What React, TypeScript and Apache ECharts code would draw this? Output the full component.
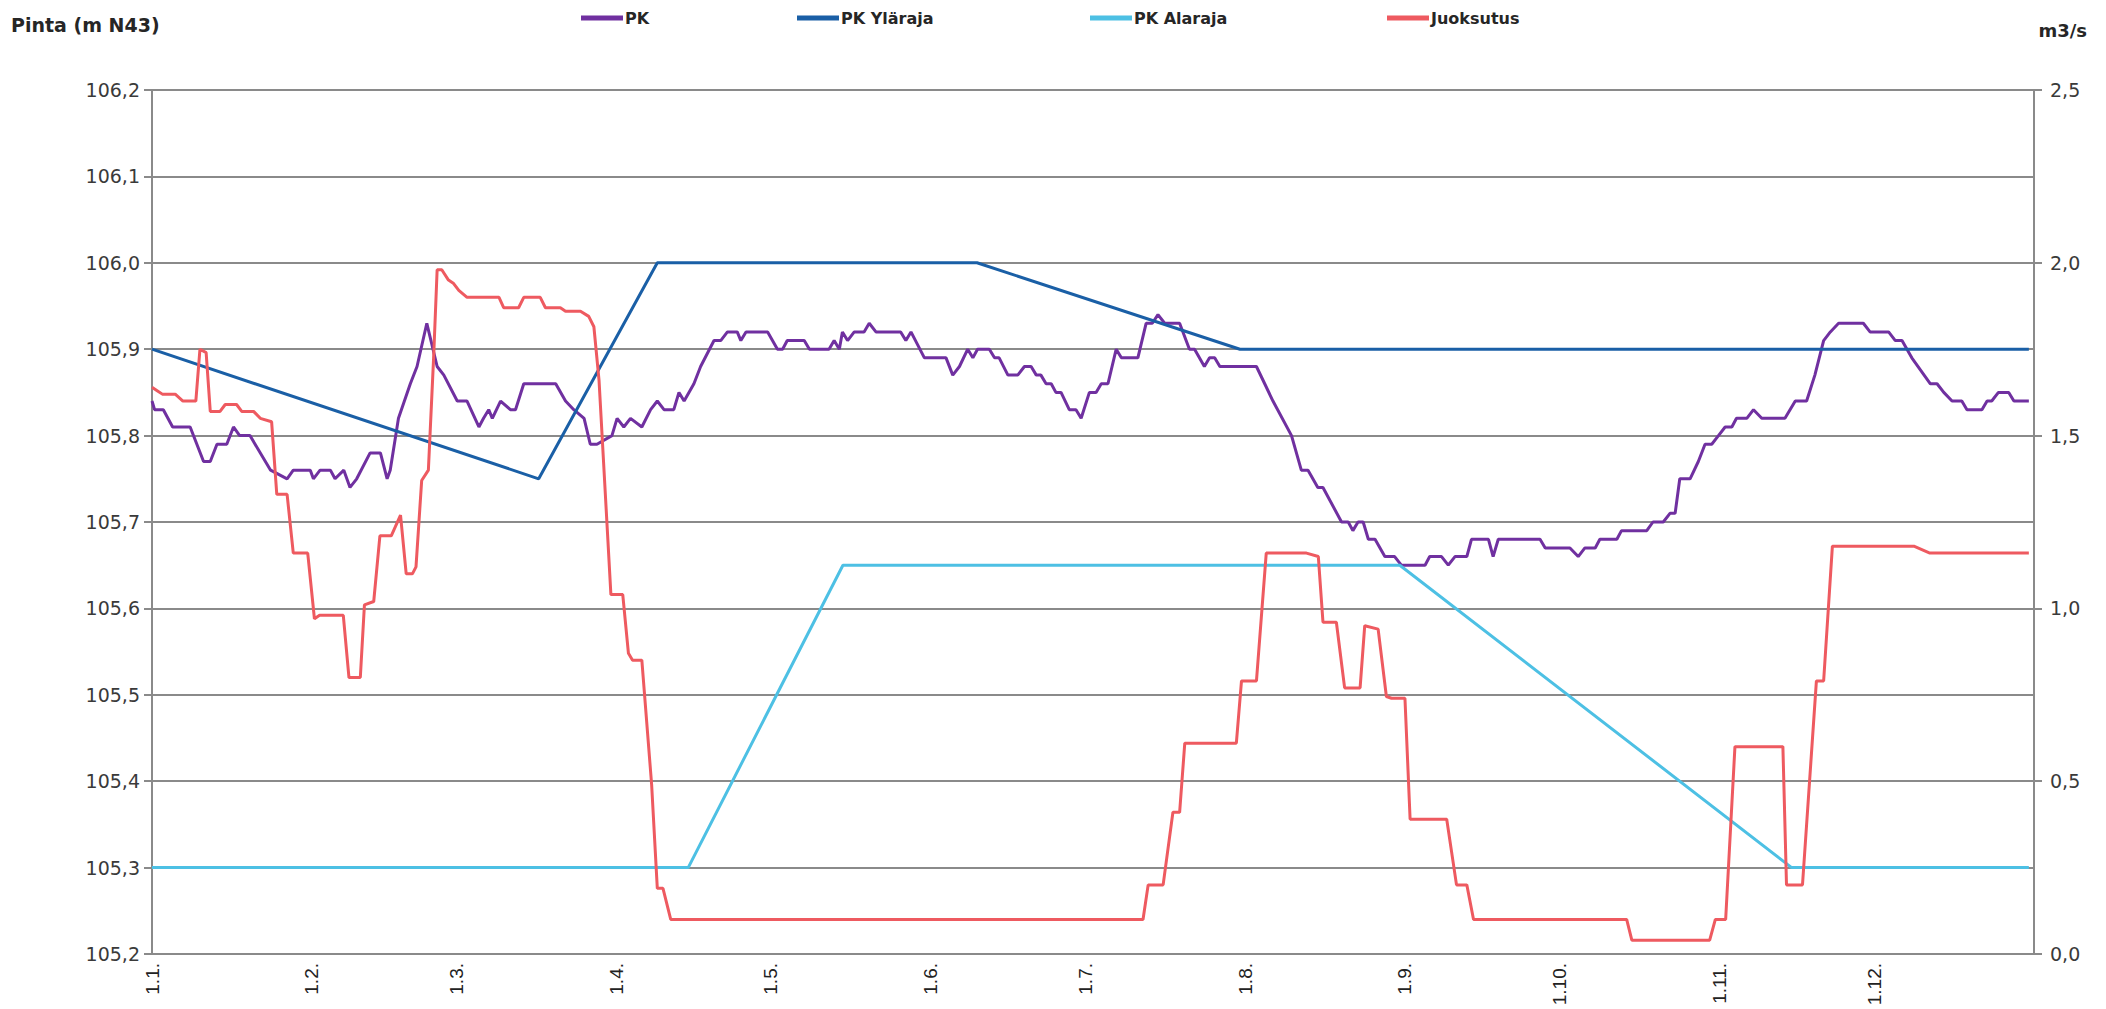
import React, { useEffect, useRef } from 'react';
import * as echarts from 'echarts';

// x = day of year (0 = 1.1.)
const monthStartDays = [0, 31, 59, 90, 120, 151, 181, 212, 243, 273, 304, 334];
const monthLabels = ['1.1.', '1.2.', '1.3.', '1.4.', '1.5.', '1.6.', '1.7.', '1.8.', '1.9.', '1.10.', '1.11.', '1.12.'];

const seriesNames = ['PK', 'PK Yläraja', 'PK Alaraja', 'Juoksutus'];

const pkData: [number, number][] = [
  [0, 105.84], [0.5, 105.83], [2.2, 105.83], [4, 105.81], [7.4, 105.81], [10, 105.77], [11.3, 105.77],
  [12.6, 105.79], [14.5, 105.79], [15.8, 105.81], [17, 105.8], [19, 105.8], [23, 105.76], [26.2, 105.75],
  [27.4, 105.76], [30.7, 105.76], [31.3, 105.75], [32.6, 105.76], [34.6, 105.76], [35.5, 105.75],
  [37.2, 105.76], [38.4, 105.74], [39.7, 105.75], [42.3, 105.78], [44.3, 105.78], [45.6, 105.75],
  [46.2, 105.76], [47.8, 105.82], [50.1, 105.86], [51.4, 105.88], [53.3, 105.93], [55.3, 105.88],
  [56.6, 105.87], [59.2, 105.84], [61.1, 105.84], [63.4, 105.81], [64.3, 105.82], [65.3, 105.83],
  [66, 105.82], [67.6, 105.84], [69.5, 105.83], [70.5, 105.83], [72.1, 105.86], [78.3, 105.86],
  [80.2, 105.84], [81.8, 105.83], [83.8, 105.82], [85, 105.79], [86.3, 105.79], [89.2, 105.8],
  [90.2, 105.82], [91.5, 105.81], [92.8, 105.82], [95, 105.81], [96.7, 105.83], [98, 105.84],
  [99.3, 105.83], [101.2, 105.83], [102.2, 105.85], [103.2, 105.84], [105.1, 105.86], [106.4, 105.88],
  [109, 105.91], [110.3, 105.91], [111.6, 105.92], [113.5, 105.92], [114.2, 105.91], [115.2, 105.92],
  [119.4, 105.92], [121.3, 105.9], [122.3, 105.9], [123.2, 105.91], [126.5, 105.91], [127.5, 105.9],
  [131.3, 105.9], [132.3, 105.91], [133.3, 105.9], [133.9, 105.92], [134.9, 105.91], [136.2, 105.92],
  [138.1, 105.92], [139.1, 105.93], [140.4, 105.92], [145.2, 105.92], [146.2, 105.91], [147.2, 105.92],
  [149.8, 105.89], [154, 105.89], [155.3, 105.87], [156.6, 105.88], [158.2, 105.9], [159.2, 105.89],
  [160.1, 105.9], [162.4, 105.9], [163.4, 105.89], [164.3, 105.89], [166, 105.87], [167.9, 105.87],
  [169.2, 105.88], [170.5, 105.88], [171.5, 105.87], [172.4, 105.87], [173.4, 105.86], [174.4, 105.86],
  [175.3, 105.85], [176.3, 105.85], [177.9, 105.83], [179.2, 105.83], [180.2, 105.82], [181.8, 105.85],
  [183.1, 105.85], [184.1, 105.86], [185.4, 105.86], [187, 105.9], [188, 105.89], [191.2, 105.89],
  [192.8, 105.93], [194, 105.93], [195.1, 105.94], [196.4, 105.93], [199.3, 105.93], [201.2, 105.9],
  [202.2, 105.9], [204.1, 105.88], [205.1, 105.89], [206.1, 105.89], [207.1, 105.88], [214.2, 105.88],
  [215.8, 105.86], [217.4, 105.84], [221, 105.8], [222.9, 105.76], [224.2, 105.76], [226.1, 105.74],
  [227.1, 105.74], [230.7, 105.7], [232, 105.7], [232.9, 105.69], [233.9, 105.7], [234.9, 105.7],
  [235.9, 105.68], [237.2, 105.68], [239.1, 105.66], [241, 105.66], [242.3, 105.65], [246.9, 105.65],
  [247.8, 105.66], [250.1, 105.66], [251.4, 105.65], [252.7, 105.66], [255, 105.66], [255.9, 105.68],
  [259.2, 105.68], [260.1, 105.66], [261.1, 105.68], [269.2, 105.68], [270.2, 105.67], [275, 105.67],
  [276.6, 105.66], [277.9, 105.67], [279.9, 105.67], [280.8, 105.68], [284.1, 105.68], [285, 105.69],
  [289.9, 105.69], [291.1, 105.7], [293.1, 105.7], [294.4, 105.71], [295.4, 105.71], [296.3, 105.75],
  [298.3, 105.75], [299.9, 105.77], [301.2, 105.79], [302.5, 105.79], [303.8, 105.8], [305.1, 105.81],
  [306.4, 105.81], [307.3, 105.82], [309.3, 105.82], [310.6, 105.83], [312.2, 105.82], [316.7, 105.82],
  [318.7, 105.84], [320.9, 105.84], [322.5, 105.87], [324.2, 105.91], [325.5, 105.92], [327.1, 105.93],
  [331.9, 105.93], [333.2, 105.92], [336.8, 105.92], [338.1, 105.91], [339.4, 105.91], [341.3, 105.89],
  [344.9, 105.86], [346.2, 105.86], [347.5, 105.85], [349.1, 105.84], [351, 105.84], [352, 105.83],
  [354.9, 105.83], [355.9, 105.84], [356.8, 105.84], [358.1, 105.85], [360.1, 105.85], [361.1, 105.84],
  [364, 105.84],
];

const ylarajaData: [number, number][] = [
  [0, 105.9], [75, 105.75], [98, 106.0], [160, 106.0], [211, 105.9], [364, 105.9],
];

const alarajaData: [number, number][] = [
  [0, 105.3], [104, 105.3], [134, 105.65], [242, 105.65], [318, 105.3], [364, 105.3],
];

const juoksutusData: [number, number][] = [
  [0, 1.64], [1, 1.63], [2, 1.62], [4.5, 1.62], [6, 1.6], [8.5, 1.6], [9.3, 1.75], [10.5, 1.74],
  [11.3, 1.57], [13.2, 1.57], [14.2, 1.59], [16.4, 1.59], [17.4, 1.57], [19.7, 1.57], [21, 1.55],
  [23.2, 1.54], [24.2, 1.33], [26.2, 1.33], [27.4, 1.16], [30.2, 1.16], [31.5, 0.97], [32.5, 0.98],
  [37.1, 0.98], [38.2, 0.8], [40.4, 0.8], [41.2, 1.01], [43, 1.02], [44.2, 1.21], [46.4, 1.21],
  [48.2, 1.27], [49.3, 1.1], [50.5, 1.1], [51.2, 1.12], [52.3, 1.37], [53.6, 1.4], [54.6, 1.72],
  [55.3, 1.98], [56.2, 1.98], [57.5, 1.95], [58.5, 1.94], [59.5, 1.92], [61.1, 1.9], [67.3, 1.9],
  [68.2, 1.87], [71.1, 1.87], [72.1, 1.9], [75.3, 1.9], [76.3, 1.87], [79.2, 1.87], [80.2, 1.86],
  [83.1, 1.86], [84.7, 1.845], [85.7, 1.815], [86.7, 1.66], [89, 1.04], [91.3, 1.04], [92.4, 0.87],
  [93.2, 0.85], [95, 0.85], [96.9, 0.49], [98, 0.19], [99.1, 0.19], [100.6, 0.1], [192.2, 0.1],
  [193.2, 0.2], [196.1, 0.2], [198, 0.41], [199.3, 0.41], [200.3, 0.61], [210.3, 0.61], [211.3, 0.79],
  [214.2, 0.79], [216.1, 1.16], [223.9, 1.16], [226.2, 1.15], [227.1, 0.96], [229.7, 0.96],
  [231.3, 0.77], [234.3, 0.77], [235.2, 0.95], [237.8, 0.94], [239.4, 0.745], [240.4, 0.74],
  [243, 0.74], [244, 0.39], [251.1, 0.39], [253, 0.2], [255, 0.2], [256.3, 0.1], [286, 0.1],
  [287, 0.04], [302.1, 0.04], [303.2, 0.1], [305.2, 0.1], [307, 0.6], [316.3, 0.6], [317, 0.2],
  [320.1, 0.2], [322.8, 0.79], [324.2, 0.79], [325.9, 1.18], [341.7, 1.18], [344.8, 1.16], [364, 1.16],
];

const seriesData = [pkData, ylarajaData, alarajaData, juoksutusData];

const COLORS = ['#7030a0', '#1a5fa6', '#4dc0e4', '#ee5a60'];
const LEGEND_LEFT = [581, 797, 1090, 1387];
const GRID_COLOR = '#8a8a8a';
const LABEL_FONT = 'DejaVu Sans';

const commaFmt = (v: number) => v.toFixed(1).replace('.', ',');

export default function App() {
  const ref = useRef<HTMLDivElement>(null);

  useEffect(() => {
    if (!ref.current) return;
    const chart = echarts.init(ref.current, undefined, { renderer: 'svg' });
    chart.setOption({
      animation: false,
      backgroundColor: '#ffffff',
      title: [
        {
          text: 'Pinta (m N43)',
          left: 11,
          top: 15,
          padding: 0,
          textStyle: { fontFamily: LABEL_FONT, fontSize: 19, fontWeight: 'bold', color: '#262626' },
        },
        {
          text: 'm3/s',
          right: 19,
          top: 21,
          padding: 0,
          textStyle: { fontFamily: LABEL_FONT, fontSize: 18, fontWeight: 'bold', color: '#262626' },
        },
      ],
      legend: seriesNames.map((name, i) => ({
        data: [name],
        left: LEGEND_LEFT[i],
        top: 10,
        padding: 0,
        icon: 'rect',
        itemWidth: 42,
        itemHeight: 5,
        itemGap: 0,
        selectedMode: false,
        textStyle: {
          fontFamily: LABEL_FONT,
          fontSize: 16,
          fontWeight: 'bold',
          color: '#262626',
          padding: [0, 0, 0, -3],
        },
      })),
      grid: { left: 152, right: 72, top: 90, bottom: 55, containLabel: false, outerBoundsMode: 'none' },
      xAxis: {
        type: 'value',
        min: 0,
        max: 365,
        axisLine: { show: true, lineStyle: { color: GRID_COLOR, width: 2 } },
        axisTick: { show: false },
        splitLine: { show: false },
        axisLabel: {
          customValues: monthStartDays,
          rotate: 90,
          margin: 9,
          fontFamily: 'Liberation Sans',
          fontSize: 19,
          color: '#222222',
          formatter: (v: number) => {
            const i = monthStartDays.indexOf(Math.round(v));
            return i >= 0 ? monthLabels[i] : '';
          },
        },
      },
      yAxis: [
        {
          type: 'value',
          min: 105.2,
          max: 106.2,
          interval: 0.1,
          position: 'left',
          axisLine: { show: true, lineStyle: { color: GRID_COLOR, width: 2 } },
          axisTick: { show: true, length: 8, lineStyle: { color: GRID_COLOR, width: 2 } },
          splitLine: { show: true, lineStyle: { color: GRID_COLOR, width: 2 } },
          axisLabel: {
            margin: 12,
            fontFamily: LABEL_FONT,
            fontSize: 19,
            color: '#3a3a3a',
            formatter: commaFmt,
          },
        },
        {
          type: 'value',
          min: 0,
          max: 2.5,
          interval: 0.5,
          position: 'right',
          axisLine: { show: true, lineStyle: { color: GRID_COLOR, width: 2 } },
          axisTick: { show: true, length: 8, lineStyle: { color: GRID_COLOR, width: 2 } },
          splitLine: { show: false },
          axisLabel: {
            margin: 16,
            fontFamily: LABEL_FONT,
            fontSize: 19,
            color: '#3a3a3a',
            formatter: commaFmt,
          },
        },
      ],
      series: seriesNames.map((name, i) => ({
        name,
        type: 'line',
        yAxisIndex: i === 3 ? 1 : 0,
        data: seriesData[i],
        showSymbol: false,
        symbol: 'none',
        color: COLORS[i],
        lineStyle: { color: COLORS[i], width: 3 },
        z: 2 + i,
      })),
    });
    return () => chart.dispose();
  }, []);

  return (
    <div
      ref={ref}
      style={{ position: 'fixed', left: 0, top: 0, width: '2106px', height: '1009px', background: '#fff' }}
    />
  );
}
